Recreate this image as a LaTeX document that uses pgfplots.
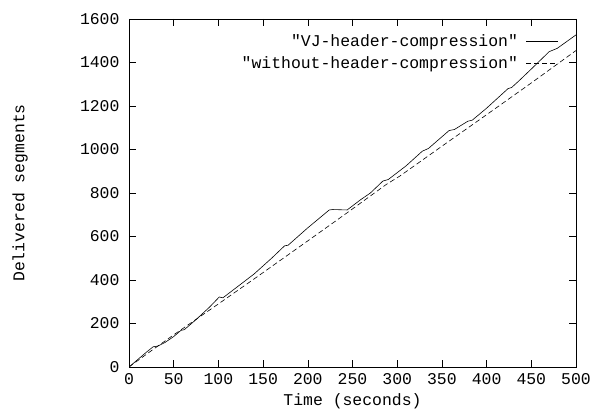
\documentclass[border=0pt]{standalone}
\usepackage{fontspec}
\setmainfont{Liberation Mono}[Ligatures=TeXOff]
\usepackage{pgfplots}
\pgfplotsset{compat=1.18}
\usetikzlibrary{calc}

\begin{document}
\begin{tikzpicture}
\begin{axis}[
  name=ax,
  width=447bp, height=348bp, scale only axis=true,
  xmin=0, xmax=500, ymin=0, ymax=1600,
  xtick={0,50,...,500}, ytick={0,200,...,1600},
  tick align=inside, major tick length=7bp,
  tick style={black, line width=0.5pt},
  axis line style={line width=0.6pt},
  font=\fontsize{16.5}{16.5}\selectfont,
  /pgf/number format/assume math mode=true,
  /pgf/number format/1000 sep={},
  xticklabel style={yshift=-3bp},
  yticklabel style={xshift=-6bp},
  xlabel={Time (seconds)}, ylabel={Delivered segments},
  xlabel style={at={(rel axis cs:0.5,0)}, anchor=center, yshift=-34bp},
  ylabel style={at={(rel axis cs:0,0.5)}, anchor=center, rotate=0, yshift=109bp},
  legend plot pos=right,
  legend cell align=right,
  legend style={draw=none, fill=none, at={(0.968,0.968)}, anchor=north east,
    row sep=5bp, font=\fontsize{16.5}{16.5}\selectfont},
  legend image code/.code={\path (0bp,0bp); \draw[#1] (6bp,0bp) -- (38bp,0bp);},
]
\addplot[black, line width=0.6pt] coordinates {
  (0,0) (10,35) (20,70) (27,93) (32,96) (40,112) (50,140) (58,168) (62,172)
  (75,218) (90,275) (101,322) (105,318) (120,365) (140,428) (160,502)
  (174,557) (178,560) (200,640) (224,722) (228,724) (244,722)
  (259,769) (270,800) (284,855) (290,862) (310,925) (328,992) (335,1005)
  (358,1087) (364,1092) (379,1130) (384,1135) (400,1190) (424,1280) (428,1285)
  (436,1315) (450,1370) (470,1450) (479,1465) (500,1527)
};
\addlegendentry{"VJ-header-compression"}
\addplot[black, line width=0.6pt, dash pattern=on 5bp off 3bp] coordinates {
  (0,0) (25,75) (50,148) (75,219) (100,290) (141,408) (200,580) (245,712)
  (288,840) (303,878) (350,1015) (400,1160) (450,1306) (500,1455)
};
\addlegendentry{"without-header-compression"}
\end{axis}
\pgfresetboundingbox
\path[use as bounding box] ($(ax.south west)+(-129bp,-43bp)$) rectangle ($(ax.north east)+(17bp,19bp)$);
\end{tikzpicture}
\end{document}
